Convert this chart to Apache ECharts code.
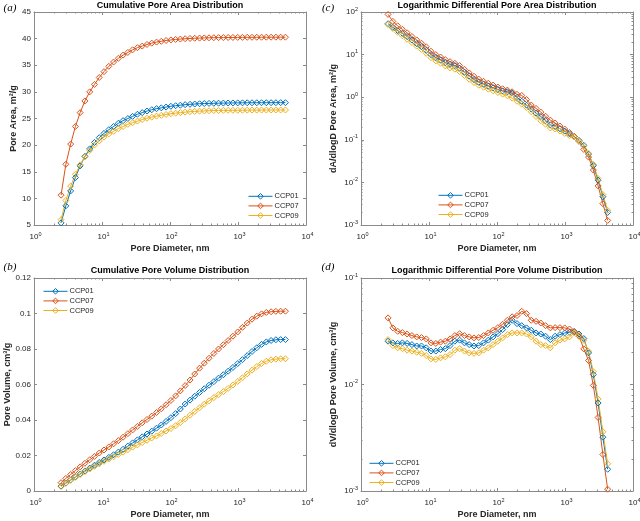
<!DOCTYPE html>
<html>
<head>
<meta charset="utf-8">
<script src="https://cdn.jsdelivr.net/npm/echarts@6/dist/echarts.min.js"></script>
<style>html,body{margin:0;padding:0;background:#fff}#c{width:640px;height:521px}</style>
</head>
<body>
<div id="c"></div>
<script>
// ---------------- data ----------------
const seriesNames = ['CCP01', 'CCP07', 'CCP09'];
const xTickValues = [1, 10, 100, 1000, 10000];

// pore diameters (nm) of cumulative curves
const diamCum = [2.50,2.94,3.46,4.06,4.77,5.61,6.60,7.75,9.11,10.7,12.6,14.8,17.4,20.4,24.0,28.2,33.2,39.0,45.9,53.9,63.4,74.5,87.6,103,121,142,167,197,231,272,319,375,441,518,609,716,842,990,1163,1367,1607,1889,2220,2610,3068,3606,4238,4982];
// pore diameters (nm) of differential curves
const diamDiff = [2.50,2.94,3.46,4.06,4.77,5.61,6.60,7.75,9.11,10.7,12.6,14.8,17.4,20.4,24.0,28.2,33.2,39.0,45.9,53.9,63.4,74.5,87.6,103,121,142,167,197,231,272,319,375,441,518,609,716,842,990,1163,1367,1607,1889,2220,2610,3068,3606,4238];

// (a) cumulative pore area, m2/g
const areaCCP01 = [5.4,8.6,11.4,13.9,16.1,17.9,19.3,20.5,21.4,22.2,22.9,23.5,24.1,24.6,25.0,25.4,25.8,26.1,26.4,26.65,26.85,27.0,27.15,27.3,27.4,27.5,27.6,27.67,27.72,27.77,27.81,27.84,27.86,27.88,27.9,27.91,27.92,27.93,27.94,27.95,27.95,27.96,27.96,27.96,27.97,27.97,27.97,27.97];
const areaCCP07 = [10.6,16.4,20.2,23.5,26.1,28.3,30.0,31.4,32.7,33.8,34.8,35.6,36.3,36.9,37.4,37.9,38.3,38.6,38.9,39.15,39.35,39.5,39.65,39.75,39.85,39.92,39.98,40.03,40.07,40.1,40.13,40.15,40.17,40.19,40.2,40.21,40.22,40.23,40.24,40.25,40.25,40.26,40.26,40.27,40.27,40.27,40.27,40.27];
const areaCCP09 = [6.0,9.6,12.3,14.5,16.3,17.8,19.0,20.0,20.8,21.5,22.1,22.6,23.1,23.5,23.9,24.2,24.5,24.8,25.05,25.25,25.45,25.6,25.75,25.9,26.0,26.1,26.2,26.27,26.33,26.38,26.42,26.45,26.48,26.5,26.52,26.53,26.54,26.55,26.56,26.57,26.58,26.58,26.59,26.59,26.6,26.6,26.6,26.6];

// (b) cumulative pore volume, cm3/g
const volCCP01 = [.0028,.0045,.0062,.0079,.0096,.0113,.0129,.0145,.0161,.0175,.0189,.0204,.0219,.0235,.0253,.0271,.0288,.0305,.0321,.0337,.0354,.0372,.0392,.0413,.0436,.0462,.0490,.0512,.0534,.0555,.0576,.0596,.0616,.0636,.0655,.0675,.0696,.0718,.0740,.0763,.0786,.0807,.0826,.0840,.0848,.0852,.0853,.0853];
const volCCP07 = [.0047,.0071,.0093,.0115,.0136,.0156,.0176,.0195,.0214,.0231,.0248,.0266,.0284,.0303,.0323,.0344,.0364,.0384,.0403,.0422,.0442,.0463,.0486,.0510,.0536,.0564,.0594,.0625,.0659,.0692,.0720,.0748,.0775,.0800,.0824,.0848,.0872,.0896,.0922,.0946,.0968,.0985,.0998,.1006,.1010,.1012,.1013,.1013];
const volCCP09 = [.0025,.0043,.0060,.0077,.0093,.0109,.0124,.0139,.0153,.0167,.0180,.0193,.0206,.0219,.0233,.0247,.0260,.0273,.0286,.0299,.0310,.0324,.0338,.0352,.0368,.0386,.0406,.0427,.0448,.0469,.0489,.0508,.0526,.0543,.0560,.0578,.0597,.0617,.0638,.0660,.0681,.0701,.0718,.0731,.0739,.0743,.0745,.0745];

// (c) dA/dlogD, m2/g
const dAreaCCP01 = [53.0,43.5,36.5,31.5,26.5,22.0,18.1,15.4,12.6,10.0,8.51,7.48,6.49,5.92,5.53,4.80,3.86,3.15,2.60,2.24,2.02,1.82,1.66,1.52,1.41,1.34,1.25,0.985,0.803,0.649,0.526,0.424,0.352,0.284,0.225,0.206,0.182,0.160,0.138,0.119,0.0966,0.0743,0.0463,0.0247,0.0113,0.00461,0.00197];
const dAreaCCP07 = [87.8,60.1,47.5,39.3,32.5,26.7,22.1,18.5,15.3,12.0,10.0,8.78,7.62,6.83,6.25,5.52,4.52,3.72,3.10,2.66,2.36,2.13,1.92,1.73,1.58,1.47,1.34,1.17,1.10,0.884,0.654,0.545,0.446,0.357,0.290,0.248,0.211,0.179,0.148,0.120,0.092,0.0594,0.0393,0.0195,0.00828,0.00317,0.00128];
const dAreaCCP09 = [51.0,41.0,33.2,27.8,22.9,19.1,15.8,13.2,10.7,8.46,7.10,6.25,5.44,4.87,4.56,3.99,3.23,2.63,2.21,1.91,1.72,1.54,1.41,1.29,1.18,1.08,0.949,0.805,0.686,0.569,0.456,0.354,0.280,0.232,0.189,0.179,0.161,0.141,0.125,0.116,0.094,0.0715,0.0480,0.0263,0.0123,0.00518,0.00221];

// (d) dV/dlogD, cm3/g
const dVolCCP01 = [0.0255,0.0246,0.0243,0.0246,0.0243,0.0237,0.0230,0.0230,0.0221,0.0206,0.0206,0.0213,0.0217,0.0232,0.0255,0.0261,0.0246,0.0237,0.0230,0.0232,0.0246,0.0261,0.0280,0.0300,0.0328,0.0365,0.0401,0.0373,0.0357,0.0340,0.0323,0.0305,0.0298,0.0284,0.0264,0.0284,0.0294,0.0305,0.0309,0.0312,0.0298,0.0270,0.0198,0.0124,0.0067,0.0032,0.0016];
const dVolCCP07 = [0.0422,0.0340,0.0316,0.0307,0.0298,0.0288,0.0280,0.0276,0.0268,0.0246,0.0243,0.0250,0.0255,0.0268,0.0288,0.0300,0.0288,0.0280,0.0274,0.0276,0.0288,0.0305,0.0323,0.0342,0.0368,0.0401,0.0432,0.0444,0.0487,0.0463,0.0401,0.0392,0.0378,0.0357,0.0340,0.0342,0.0342,0.0340,0.0332,0.0316,0.0284,0.0216,0.0168,0.0098,0.0049,0.0022,0.00104];
const dVolCCP09 = [0.0264,0.0232,0.0221,0.0217,0.0210,0.0206,0.0201,0.0196,0.0187,0.0174,0.0172,0.0178,0.0182,0.0191,0.0210,0.0217,0.0206,0.0198,0.0196,0.0198,0.0210,0.0221,0.0237,0.0255,0.0274,0.0294,0.0305,0.0305,0.0305,0.0298,0.0280,0.0255,0.0237,0.0232,0.0221,0.0246,0.0261,0.0268,0.0280,0.0305,0.0290,0.0260,0.0205,0.0132,0.0073,0.0036,0.0018];

// ---------------- style ----------------
const COLORS = { CCP01: '#0072BD', CCP07: '#D95319', CCP09: '#EDB120' };
const AX = '#8a8a8a';
const TX = '#262626';
const FONT = '"Liberation Sans", Arial, Helvetica, sans-serif';

const panels = [
  { key: 'a', grid: { left: 34, top: 12, width: 272, height: 213 },
    title: 'Cumulative Pore Area Distribution', yName: 'Pore Area, m²/g',
    y: { type: 'value', min: 5, max: 45, interval: 5 },
    xs: diamCum, ys: [areaCCP01, areaCCP07, areaCCP09],
    legend: { left: 248, top: 191 }, label: '(a)', labelPos: [10, 8], yNameX: 14, titleY: 6 },
  { key: 'c', grid: { left: 361, top: 12, width: 272, height: 213 },
    title: 'Logarithmic Differential Pore Area Distribution', yName: 'dA/dlogD Pore Area, m²/g',
    y: { type: 'log', logBase: 10, min: 0.001, max: 100 },
    xs: diamDiff, ys: [dAreaCCP01, dAreaCCP07, dAreaCCP09],
    legend: { left: 438, top: 190 }, label: '(c)', labelPos: [328, 8], yNameX: 334, titleY: 6 },
  { key: 'b', grid: { left: 34, top: 278, width: 272, height: 213 },
    title: 'Cumulative Pore Volume Distribution', yName: 'Pore Volume, cm³/g',
    y: { type: 'value', min: 0, max: 0.12, interval: 0.02 },
    xs: diamCum, ys: [volCCP01, volCCP07, volCCP09],
    legend: { left: 43, top: 286 }, label: '(b)', labelPos: [10, 267], yNameX: 8, titleY: 271 },
  { key: 'd', grid: { left: 361, top: 278, width: 272, height: 213 },
    title: 'Logarithmic Differential Pore Volume Distribution', yName: 'dV/dlogD Pore Volume, cm³/g',
    y: { type: 'log', logBase: 10, min: 0.001, max: 0.1 },
    xs: diamDiff, ys: [dVolCCP01, dVolCCP07, dVolCCP09],
    legend: { left: 369, top: 458 }, label: '(d)', labelPos: [328, 267], yNameX: 334, titleY: 271 }
];

const richLog = {
  b: { fontSize: 8, fontFamily: FONT, color: TX, lineHeight: 12, padding: [0, 0, 0, 3] },
  s: { fontSize: 5.5, fontFamily: FONT, color: TX, lineHeight: 6, verticalAlign: 'top' }
};
function logFmt(v) {
  const e = Math.round(Math.log10(v));
  return '{b|10}{s|' + e + '}';
}

function xAxisDef(gi, mirror) {
  return {
    type: 'log', logBase: 10, min: xTickValues[0], max: xTickValues[xTickValues.length - 1],
    gridIndex: gi, position: mirror ? 'top' : 'bottom',
    axisLine: { show: true, onZero: false, lineStyle: { color: AX, width: 1 } },
    axisTick: { show: true, inside: true, length: 3, lineStyle: { color: AX } },
    minorTick: { show: true, splitNumber: 9, length: 1.5, lineStyle: { color: AX } },
    splitLine: { show: false }, minorSplitLine: { show: false },
    axisLabel: { show: !mirror, margin: 6, formatter: logFmt, rich: richLog,
                 showMinLabel: true, showMaxLabel: true, hideOverlap: false }
  };
}
function yAxisDef(gi, p, mirror) {
  const isLog = p.y.type === 'log';
  const ax = Object.assign({}, p.y, {
    gridIndex: gi, position: mirror ? 'right' : 'left',
    axisLine: { show: true, onZero: false, lineStyle: { color: AX, width: 1 } },
    axisTick: { show: true, inside: true, length: 3, lineStyle: { color: AX } },
    splitLine: { show: false }, minorSplitLine: { show: false },
    axisLabel: { show: !mirror, margin: 3, fontSize: 8, color: TX, fontFamily: FONT,
                 showMinLabel: true, showMaxLabel: true, hideOverlap: false }
  });
  if (isLog) {
    ax.minorTick = { show: true, splitNumber: 9, length: 1.5, lineStyle: { color: AX } };
    ax.axisLabel.formatter = logFmt;
    ax.axisLabel.rich = richLog;
  }
  return ax;
}

const grids = [], xAxes = [], yAxes = [], series = [], legends = [], graphics = [];
panels.forEach((p, i) => {
  grids.push(Object.assign({ containLabel: false, outerBoundsMode: 'none' }, p.grid));
  xAxes.push(xAxisDef(i, false), xAxisDef(i, true));
  yAxes.push(yAxisDef(i, p, false), yAxisDef(i, p, true));
  seriesNames.forEach((n, k) => {
    series.push({
      type: 'line', name: n, xAxisIndex: 2 * i, yAxisIndex: 2 * i,
      data: p.xs.map((x, j) => [x, p.ys[k][j]]),
      symbol: 'diamond', symbolSize: 6, showSymbol: true,
      lineStyle: { color: COLORS[n], width: 1 },
      itemStyle: { color: 'none', borderColor: COLORS[n], borderWidth: 1 },
      emphasis: { disabled: true }, silent: true, animation: false
    });
  });
  legends.push({
    data: seriesNames, orient: 'vertical', left: p.legend.left, top: p.legend.top,
    itemWidth: 24, itemHeight: 7, itemGap: -1, padding: 0, selectedMode: false,
    itemStyle: { color: 'none', borderWidth: 1 },
    lineStyle: { width: 1 },
    textStyle: { fontSize: 7.5, lineHeight: 8, color: TX, fontFamily: FONT, padding: [0, 0, 0, -3] }
  });
  const cx = p.grid.left + p.grid.width / 2;
  const cy = p.grid.top + p.grid.height / 2;
  graphics.push({ type: 'text', x: cx, y: p.titleY,
    style: { text: p.title, fontSize: 9, fontWeight: 'bold', fontFamily: FONT, fill: '#000',
             align: 'center', verticalAlign: 'middle' } });
  graphics.push({ type: 'text', x: cx, y: p.grid.top + p.grid.height + 24,
    style: { text: 'Pore Diameter, nm', fontSize: 9, fontWeight: 'bold', fontFamily: FONT, fill: TX,
             align: 'center', verticalAlign: 'middle' } });
  graphics.push({ type: 'text', x: p.yNameX, y: cy, rotation: Math.PI / 2,
    style: { text: p.yName, fontSize: 9, fontWeight: 'bold', fontFamily: FONT, fill: TX,
             align: 'center', verticalAlign: 'middle' } });
  graphics.push({ type: 'text', x: p.labelPos[0], y: p.labelPos[1],
    style: { text: p.label, fontSize: 11, fontStyle: 'italic', fontFamily: '"Liberation Serif", "Times New Roman", serif',
             fill: '#000', align: 'center', verticalAlign: 'middle' } });
});

const chart = echarts.init(document.getElementById('c'), null, { renderer: 'canvas' });
chart.setOption({
  animation: false,
  backgroundColor: '#fff',
  textStyle: { fontFamily: FONT },
  grid: grids, xAxis: xAxes, yAxis: yAxes, series: series, legend: legends,
  graphic: graphics
});
</script>
</body>
</html>
